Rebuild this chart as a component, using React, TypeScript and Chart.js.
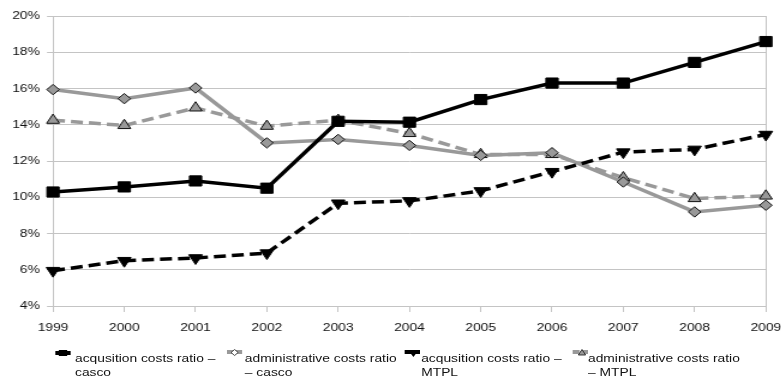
import React, { useEffect, useRef } from "react";
import { Chart, registerables } from "chart.js";

Chart.register(...registerables);

const years = ["1999", "2000", "2001", "2002", "2003", "2004", "2005", "2006", "2007", "2008", "2009"];
const acqCasco = [10.29, 10.57, 10.9, 10.5, 14.19, 14.14, 15.39, 16.3, 16.3, 17.44, 18.59];
const admCasco = [15.94, 15.44, 16.03, 13.0, 13.19, 12.86, 12.31, 12.46, 10.84, 9.19, 9.56];
const acqMtpl = [5.95, 6.5, 6.65, 6.92, 9.67, 9.8, 10.35, 11.41, 12.49, 12.64, 13.46];
const admMtpl = [14.25, 13.96, 14.93, 13.92, 14.25, 13.52, 12.36, 12.36, 11.08, 9.93, 10.07];
const yMin = 4;
const yMax = 20;
const yStep = 2;
const legendLabels = [
  ["acqusition costs ratio –", "casco"],
  ["administrative costs ratio", "– casco"],
  ["acqusition costs ratio –", "MTPL"],
  ["administrative costs ratio", "– MTPL"],
];

const S = 1.2;
const FONT = '"Liberation Sans", Arial, sans-serif';
const GRID = "#c4c4c4";
const GRAY = "#999999";

function Sym({ kind }: { kind: number }) {
  const w = 13;
  const h = 8;
  return (
    <svg width={w} height={h} style={{ display: "block" }}>
      {kind === 0 && (
        <>
          <line x1={0} y1={4} x2={w} y2={4} stroke="#000" strokeWidth={4} />
          <rect x={3} y={1} width={7} height={6} fill="#000" />
        </>
      )}
      {kind === 1 && (
        <>
          <line x1={0} y1={3} x2={w} y2={3} stroke={GRAY} strokeWidth={4} />
          <polygon points="6.5,0.5 9.5,3.5 6.5,6.5 3.5,3.5" fill="#fff" stroke="#333" strokeWidth={0.8} />
        </>
      )}
      {kind === 2 && (
        <>
          <line x1={0} y1={3} x2={w} y2={3} stroke="#000" strokeWidth={4} strokeDasharray="6 2" />
          <polygon points="3,1 12,1 7.5,8" fill="#000" />
        </>
      )}
      {kind === 3 && (
        <>
          <line x1={0} y1={3} x2={w} y2={3} stroke={GRAY} strokeWidth={4} strokeDasharray="6 2" />
          <polygon points="8,0.5 11,6 5,6" fill={GRAY} stroke="#222" strokeWidth={0.8} />
        </>
      )}
    </svg>
  );
}

const legendPos = [
  { sx: 46, tx: 62.5 },
  { sx: 189, tx: 204 },
  { sx: 337, tx: 351 },
  { sx: 477, tx: 490 },
];

export default function App() {
  const ref = useRef<HTMLCanvasElement | null>(null);

  useEffect(() => {
    const canvas = ref.current;
    if (!canvas) return;
    const lastIdx = years.length - 1;
    const chart = new Chart(canvas, {
      type: "line",
      data: {
        labels: years,
        datasets: [
          {
            label: "acqusition costs ratio – casco",
            data: acqCasco,
            order: 0,
            borderColor: "#000",
            backgroundColor: "#000",
            borderWidth: 3.5,
            pointStyle: "rect",
            pointRadius: 7.2,
            pointBorderColor: "#000",
            pointBackgroundColor: "#000",
            pointBorderWidth: 1,
            tension: 0,
          },
          {
            label: "administrative costs ratio – casco",
            data: admCasco,
            order: 2,
            borderColor: GRAY,
            backgroundColor: GRAY,
            borderWidth: 3.5,
            pointStyle: "rectRot",
            pointRadius: 5.2,
            pointBorderColor: "#111",
            pointBackgroundColor: GRAY,
            pointBorderWidth: 1,
            tension: 0,
          },
          {
            label: "acqusition costs ratio – MTPL",
            data: acqMtpl,
            order: 1,
            borderColor: "#000",
            backgroundColor: "#000",
            borderWidth: 3.5,
            borderDash: [10, 5],
            pointStyle: "triangle",
            pointRotation: 180,
            pointRadius: 6.5,
            pointBorderColor: "#000",
            pointBackgroundColor: "#000",
            pointBorderWidth: 1,
            tension: 0,
          },
          {
            label: "administrative costs ratio – MTPL",
            data: admMtpl,
            order: 3,
            borderColor: GRAY,
            backgroundColor: GRAY,
            borderWidth: 3.5,
            borderDash: [10, 5],
            pointStyle: "triangle",
            pointRadius: 6.2,
            pointBorderColor: "#111",
            pointBackgroundColor: GRAY,
            pointBorderWidth: 1,
            tension: 0,
          },
        ],
      },
      options: {
        responsive: false,
        animation: false,
        layout: { padding: { left: 0, top: 16, right: 660 - 767 / S, bottom: 379 - 306 - 30 } },
        plugins: { legend: { display: false }, tooltip: { enabled: false }, title: { display: false } },
        scales: {
          x: {
            type: "category",
            offset: false,
            grid: {
              display: true,
              drawOnChartArea: true,
              color: (c: any) => (c.index === lastIdx ? GRID : "rgba(0,0,0,0)"),
              tickColor: GRID,
              tickLength: 6,
              lineWidth: 1,
            },
            border: { display: true, color: GRID, width: 1 },
            ticks: {
              color: "#111",
              font: { family: FONT, size: 11.5 },
              padding: 9,
              maxRotation: 0,
              autoSkip: false,
            },
            afterFit: (scale: any) => {
              scale.height = 30;
            },
          },
          y: {
            min: yMin,
            max: yMax,
            grid: { color: GRID, tickColor: GRID, tickLength: 5, lineWidth: 1 },
            border: { display: true, color: GRID, width: 1 },
            ticks: {
              stepSize: yStep,
              color: "#111",
              font: { family: FONT, size: 11.5 },
              padding: 6,
              callback: (v: any) => `${v}%`,
            },
            afterFit: (scale: any) => {
              scale.width = 53 / S;
            },
          },
        },
      },
    });
    return () => chart.destroy();
  }, []);

  return (
    <div
      style={{
        position: "fixed",
        left: 0,
        top: 0,
        width: 660,
        height: 379,
        transform: `scaleX(${S})`,
        transformOrigin: "0 0",
        fontFamily: FONT,
      }}
    >
      <canvas ref={ref} width={660} height={379} style={{ width: 660, height: 379, display: "block" }} />
      {legendLabels.map((lines, i) => (
        <React.Fragment key={i}>
          <div style={{ position: "absolute", left: legendPos[i].sx, top: 349 }}>
            <Sym kind={i} />
          </div>
          <div
            style={{
              position: "absolute",
              left: legendPos[i].tx,
              top: 351,
              fontSize: 11.5,
              lineHeight: "14px",
              color: "#111",
              whiteSpace: "nowrap",
            }}
          >
            {lines.map((l, j) => (
              <div key={j}>{l}</div>
            ))}
          </div>
        </React.Fragment>
      ))}
    </div>
  );
}
